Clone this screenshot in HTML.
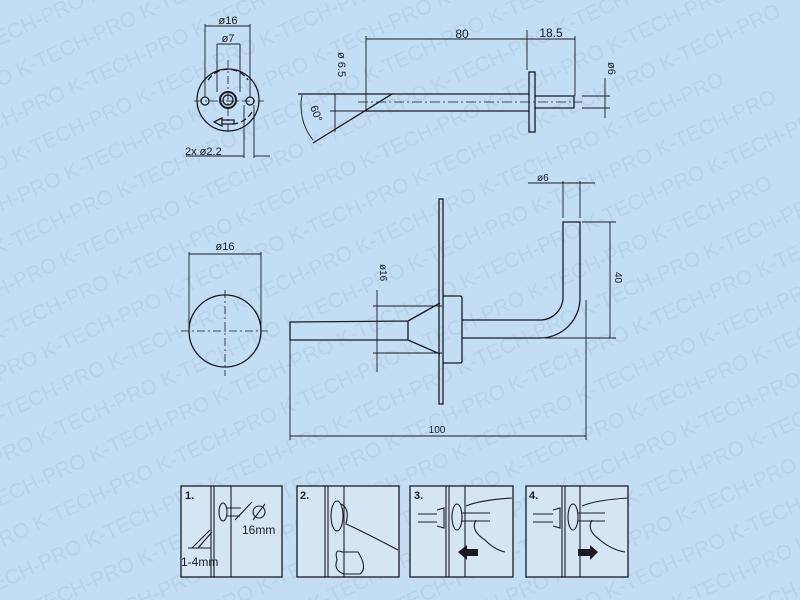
<!DOCTYPE html>
<html><head><meta charset="utf-8"><style>
html,body{margin:0;padding:0;background:#c3def2;width:800px;height:600px;overflow:hidden;}
svg{display:block;}
text{font-family:"Liberation Sans",Arial,sans-serif;fill:#1a1a24;}
.wm text{fill:#b8d3e8;font-size:21px;}
</style></head><body>
<svg width="800" height="600" viewBox="0 0 800 600" xmlns="http://www.w3.org/2000/svg">
<rect width="800" height="600" fill="#c3def2"/>
<g class="wm" transform="rotate(-25 400 300)">
<text x="-300" y="-100">K-TECH-PRO K-TECH-PRO K-TECH-PRO K-TECH-PRO K-TECH-PRO K-TECH-PRO K-TECH-PRO K-TECH-PRO</text>
<text x="-260" y="-62">K-TECH-PRO K-TECH-PRO K-TECH-PRO K-TECH-PRO K-TECH-PRO K-TECH-PRO K-TECH-PRO K-TECH-PRO</text>
<text x="-220" y="-24">K-TECH-PRO K-TECH-PRO K-TECH-PRO K-TECH-PRO K-TECH-PRO K-TECH-PRO K-TECH-PRO K-TECH-PRO</text>
<text x="-300" y="14">K-TECH-PRO K-TECH-PRO K-TECH-PRO K-TECH-PRO K-TECH-PRO K-TECH-PRO K-TECH-PRO K-TECH-PRO</text>
<text x="-260" y="52">K-TECH-PRO K-TECH-PRO K-TECH-PRO K-TECH-PRO K-TECH-PRO K-TECH-PRO K-TECH-PRO K-TECH-PRO</text>
<text x="-220" y="90">K-TECH-PRO K-TECH-PRO K-TECH-PRO K-TECH-PRO K-TECH-PRO K-TECH-PRO K-TECH-PRO K-TECH-PRO</text>
<text x="-300" y="128">K-TECH-PRO K-TECH-PRO K-TECH-PRO K-TECH-PRO K-TECH-PRO K-TECH-PRO K-TECH-PRO K-TECH-PRO</text>
<text x="-260" y="166">K-TECH-PRO K-TECH-PRO K-TECH-PRO K-TECH-PRO K-TECH-PRO K-TECH-PRO K-TECH-PRO K-TECH-PRO</text>
<text x="-220" y="204">K-TECH-PRO K-TECH-PRO K-TECH-PRO K-TECH-PRO K-TECH-PRO K-TECH-PRO K-TECH-PRO K-TECH-PRO</text>
<text x="-300" y="242">K-TECH-PRO K-TECH-PRO K-TECH-PRO K-TECH-PRO K-TECH-PRO K-TECH-PRO K-TECH-PRO K-TECH-PRO</text>
<text x="-260" y="280">K-TECH-PRO K-TECH-PRO K-TECH-PRO K-TECH-PRO K-TECH-PRO K-TECH-PRO K-TECH-PRO K-TECH-PRO</text>
<text x="-220" y="318">K-TECH-PRO K-TECH-PRO K-TECH-PRO K-TECH-PRO K-TECH-PRO K-TECH-PRO K-TECH-PRO K-TECH-PRO</text>
<text x="-300" y="356">K-TECH-PRO K-TECH-PRO K-TECH-PRO K-TECH-PRO K-TECH-PRO K-TECH-PRO K-TECH-PRO K-TECH-PRO</text>
<text x="-260" y="394">K-TECH-PRO K-TECH-PRO K-TECH-PRO K-TECH-PRO K-TECH-PRO K-TECH-PRO K-TECH-PRO K-TECH-PRO</text>
<text x="-220" y="432">K-TECH-PRO K-TECH-PRO K-TECH-PRO K-TECH-PRO K-TECH-PRO K-TECH-PRO K-TECH-PRO K-TECH-PRO</text>
<text x="-300" y="470">K-TECH-PRO K-TECH-PRO K-TECH-PRO K-TECH-PRO K-TECH-PRO K-TECH-PRO K-TECH-PRO K-TECH-PRO</text>
<text x="-260" y="508">K-TECH-PRO K-TECH-PRO K-TECH-PRO K-TECH-PRO K-TECH-PRO K-TECH-PRO K-TECH-PRO K-TECH-PRO</text>
<text x="-220" y="546">K-TECH-PRO K-TECH-PRO K-TECH-PRO K-TECH-PRO K-TECH-PRO K-TECH-PRO K-TECH-PRO K-TECH-PRO</text>
<text x="-300" y="584">K-TECH-PRO K-TECH-PRO K-TECH-PRO K-TECH-PRO K-TECH-PRO K-TECH-PRO K-TECH-PRO K-TECH-PRO</text>
<text x="-260" y="622">K-TECH-PRO K-TECH-PRO K-TECH-PRO K-TECH-PRO K-TECH-PRO K-TECH-PRO K-TECH-PRO K-TECH-PRO</text>
<text x="-220" y="660">K-TECH-PRO K-TECH-PRO K-TECH-PRO K-TECH-PRO K-TECH-PRO K-TECH-PRO K-TECH-PRO K-TECH-PRO</text>
<text x="-300" y="698">K-TECH-PRO K-TECH-PRO K-TECH-PRO K-TECH-PRO K-TECH-PRO K-TECH-PRO K-TECH-PRO K-TECH-PRO</text>
<text x="-260" y="736">K-TECH-PRO K-TECH-PRO K-TECH-PRO K-TECH-PRO K-TECH-PRO K-TECH-PRO K-TECH-PRO K-TECH-PRO</text>
</g>
<g stroke="#1a1a24" fill="none" stroke-width="1.3">
<circle cx="228" cy="100" r="31"/>
<circle cx="228" cy="100" r="8" stroke-width="2"/>
<circle cx="228" cy="100" r="5"/>
<circle cx="205" cy="101" r="4"/>
<circle cx="250" cy="101" r="4"/>
<path d="M208 80 A24 24 0 0 1 248 80 M252 112 A24 24 0 0 1 232 124" stroke-dasharray="6 3"/>
<path d="M222 118 L214 122 L222 126 Z M222 120 H234 V124 H222"/>
<line x1="194" y1="101" x2="264" y2="101" stroke-width="0.8" stroke-dasharray="8 3 2 3"/>
<line x1="228" y1="60" x2="228" y2="135" stroke-width="0.8" stroke-dasharray="8 3 2 3"/>
<g stroke-width="0.9">
<line x1="205" y1="24" x2="205" y2="97"/><line x1="250" y1="24" x2="250" y2="97"/>
<line x1="205" y1="26" x2="250" y2="26"/>
<line x1="217" y1="44" x2="217" y2="92"/><line x1="240" y1="44" x2="240" y2="92"/>
<line x1="217" y1="44" x2="240" y2="44"/>
<line x1="244" y1="105" x2="244" y2="158"/><line x1="254" y1="105" x2="254" y2="158"/>
<line x1="186" y1="156" x2="244" y2="156"/><line x1="254" y1="156" x2="270" y2="156"/>
</g>
<path d="M298 94 H392 L313 143"/>
<line x1="392" y1="94" x2="529" y2="94"/>
<line x1="366" y1="111" x2="529" y2="111"/>
<rect x="529" y="72" width="6" height="60"/>
<path d="M535 96 H574 V108 H535"/>
<line x1="358" y1="102" x2="582" y2="102" stroke-width="0.8" stroke-dasharray="10 3 2 3"/>
<g stroke-width="0.9">
<line x1="366" y1="36" x2="366" y2="112"/><line x1="366" y1="39" x2="527" y2="39"/>
<line x1="527" y1="30" x2="527" y2="70"/><line x1="527" y1="39" x2="575" y2="39"/>
<line x1="575" y1="36" x2="575" y2="96"/>
<line x1="335" y1="94" x2="335" y2="132"/><line x1="330" y1="111" x2="366" y2="111"/>
<line x1="605" y1="78" x2="605" y2="118"/><line x1="582" y1="96" x2="610" y2="96"/><line x1="582" y1="108" x2="610" y2="108"/>
<path d="M302 95 A55 55 0 0 0 313 140"/>
</g>
<circle cx="225" cy="331" r="36"/>
<line x1="181" y1="331" x2="268" y2="331" stroke-width="0.8" stroke-dasharray="8 3 2 3"/>
<line x1="225" y1="290" x2="225" y2="376" stroke-width="0.8" stroke-dasharray="8 3 2 3"/>
<g stroke-width="0.9">
<line x1="189" y1="252" x2="189" y2="331"/><line x1="261" y1="252" x2="261" y2="331"/>
<line x1="189" y1="254" x2="261" y2="254"/>
</g>
<rect x="439" y="199" width="4" height="205"/>
<path d="M443 296 H460 Q462 296 462 298 V361 Q462 363 460 363 H443"/>
<path d="M290 322 V340 H408 V321 Z M408 321 L440 303 M408 340 L440 354"/>
<path d="M462 320 H540 A23 23 0 0 0 563 297 V222 H580 V298 A40 40 0 0 1 540 338 H462"/>
<g stroke-width="0.9">
<line x1="373" y1="306" x2="442" y2="306"/><line x1="373" y1="353" x2="442" y2="353"/>
<line x1="377" y1="290" x2="377" y2="372"/>
<line x1="563" y1="181" x2="563" y2="218"/><line x1="580" y1="181" x2="580" y2="218"/>
<line x1="528" y1="183" x2="595" y2="183"/>
<line x1="582" y1="222" x2="616" y2="222"/><line x1="545" y1="338" x2="616" y2="338"/>
<line x1="610" y1="222" x2="610" y2="338"/>
<line x1="290" y1="340" x2="290" y2="440"/><line x1="586" y1="300" x2="586" y2="440"/>
<line x1="290" y1="436" x2="586" y2="436"/>
</g>
</g>
<g fill="#1a1a24">
<text x="228" y="24" font-size="11" text-anchor="middle">ø16</text>
<text x="228" y="42" font-size="11" text-anchor="middle">ø7</text>
<text x="185" y="155" font-size="11">2x ø2.2</text>
<text x="462" y="38" font-size="12" text-anchor="middle">80</text>
<text x="551" y="37" font-size="12" text-anchor="middle">18.5</text>
<text transform="translate(338,52) rotate(90)" font-size="11">ø 6.5</text>
<text transform="translate(608,62) rotate(90)" font-size="11">ø6</text>
<text transform="translate(310,107) rotate(70)" font-size="11">60°</text>
<text x="225" y="250" font-size="11" text-anchor="middle">ø16</text>
<text transform="translate(380,264) rotate(90)" font-size="10">ø16</text>
<text x="537" y="181" font-size="10">ø6</text>
<text transform="translate(615,272) rotate(90)" font-size="10">40</text>
<text x="437" y="433" font-size="10" text-anchor="middle">100</text>
</g>
<g stroke="#1a1a24" fill="#d4e6f3" stroke-width="1.3">
<rect x="181" y="486" width="101" height="91"/>
<rect x="297" y="486" width="102" height="91"/>
<rect x="410" y="486" width="103" height="91"/>
<rect x="526" y="486" width="102" height="91"/>
</g>
<g stroke="#1a1a24" fill="none" stroke-width="1.1">
<line x1="211" y1="486" x2="211" y2="577"/><line x1="214" y1="486" x2="214" y2="577"/><line x1="231" y1="486" x2="231" y2="577"/>
<ellipse cx="223" cy="512" rx="4" ry="9"/><path d="M226 508 H241 M226 516 H240"/><line x1="235" y1="520" x2="252" y2="502"/>
<circle cx="259" cy="512" r="6"/><line x1="253" y1="520" x2="265" y2="504"/>
<line x1="192" y1="548" x2="210" y2="530"/><line x1="198" y1="548" x2="212" y2="532"/><line x1="188" y1="548" x2="211" y2="548"/>
<line x1="325" y1="486" x2="325" y2="577"/><line x1="328" y1="486" x2="328" y2="577"/><line x1="344" y1="486" x2="344" y2="577"/>
<ellipse cx="337" cy="516" rx="6" ry="15"/><path d="M341 504 Q350 508 346 524 Q360 530 398 550"/>
<path d="M342 552 Q334 548 337 560 Q333 570 344 574 H360 Q368 568 358 552 Z"/>
<line x1="446" y1="486" x2="446" y2="577"/><line x1="449" y1="486" x2="449" y2="577"/><line x1="465" y1="486" x2="465" y2="577"/>
<path d="M418 514 H437 M418 522 H437 M437 510 L444 508 V528 L437 526"/>
<ellipse cx="457" cy="517" rx="5" ry="13"/><path d="M462 513 H490 M462 521 H490"/>
<path d="M466 506 Q480 500 512 498 M476 520 Q470 530 485 540 Q495 550 505 552"/>
<line x1="562" y1="486" x2="562" y2="577"/><line x1="565" y1="486" x2="565" y2="577"/><line x1="580" y1="486" x2="580" y2="577"/>
<path d="M533 514 H553 M533 522 H553 M553 510 L560 508 V528 L553 526"/>
<ellipse cx="573" cy="517" rx="5" ry="13"/><path d="M578 513 H605 M578 521 H605"/>
<path d="M582 506 Q596 500 628 498 M592 520 Q586 530 600 540 Q612 550 625 552"/>
</g>
<g fill="#1a1a24">
<text x="185" y="499" font-size="11" font-weight="bold">1.</text>
<text x="300" y="499" font-size="11" font-weight="bold">2.</text>
<text x="414" y="499" font-size="11" font-weight="bold">3.</text>
<text x="529" y="499" font-size="11" font-weight="bold">4.</text>
<text x="242" y="534" font-size="12">16mm</text>
<text x="181" y="566" font-size="12">1-4mm</text>
<path d="M458 552 L467 545 V549 H478 V556 H467 V560 Z"/>
<path d="M578 549 H590 V545 L598 552 L590 560 V556 H578 Z"/>
</g>
</svg>
</body></html>
